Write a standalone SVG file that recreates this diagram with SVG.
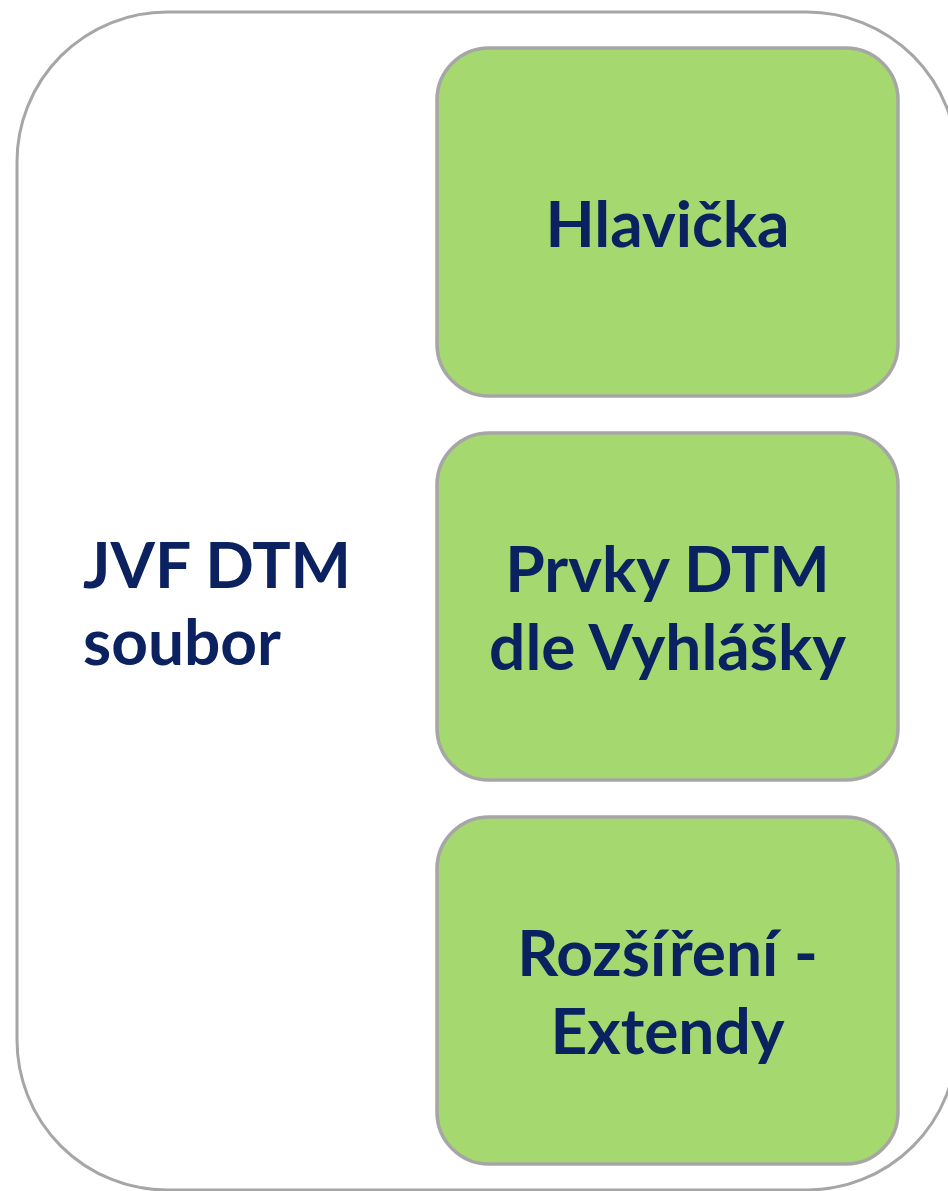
<svg xmlns="http://www.w3.org/2000/svg" width="948" height="1191" viewBox="0 0 948 1191">
<style>
.frame{fill:#ffffff;stroke:#a6a6a6;stroke-width:3}
.box{fill:#a6d870;stroke:#a6a6a6;stroke-width:3.5}
.t{font-family:Lato,"Open Sans","DejaVu Sans",sans-serif;font-weight:bold;font-size:64px;fill:#0b2160}
.c{text-anchor:middle}
</style>
<rect width="948" height="1191" fill="#ffffff"/>
<g id="container">
<rect class="frame" x="17" y="12" width="940" height="1178" rx="150" ry="150"/>
<text class="t" x="83" y="588">JVF DTM</text>
<text class="t" x="83" y="665">soubor</text>
</g>
<g id="connectors"></g>
<g id="hlavicka">
<rect class="box" x="437" y="48" width="461" height="348" rx="52" ry="52"/>
<text class="t c" x="667.5" y="247">Hlavička</text>
</g>
<g id="prvky">
<rect class="box" x="437" y="433" width="461" height="347" rx="52" ry="52"/>
<text class="t c" x="667.5" y="592">Prvky DTM</text>
<text class="t c" x="667.5" y="670">dle Vyhlášky</text>
</g>
<g id="rozsireni">
<rect class="box" x="437" y="817" width="461" height="347" rx="52" ry="52"/>
<text class="t c" x="667.5" y="976">Rozšíření -</text>
<text class="t c" x="667.5" y="1054">Extendy</text>
</g>
</svg>
